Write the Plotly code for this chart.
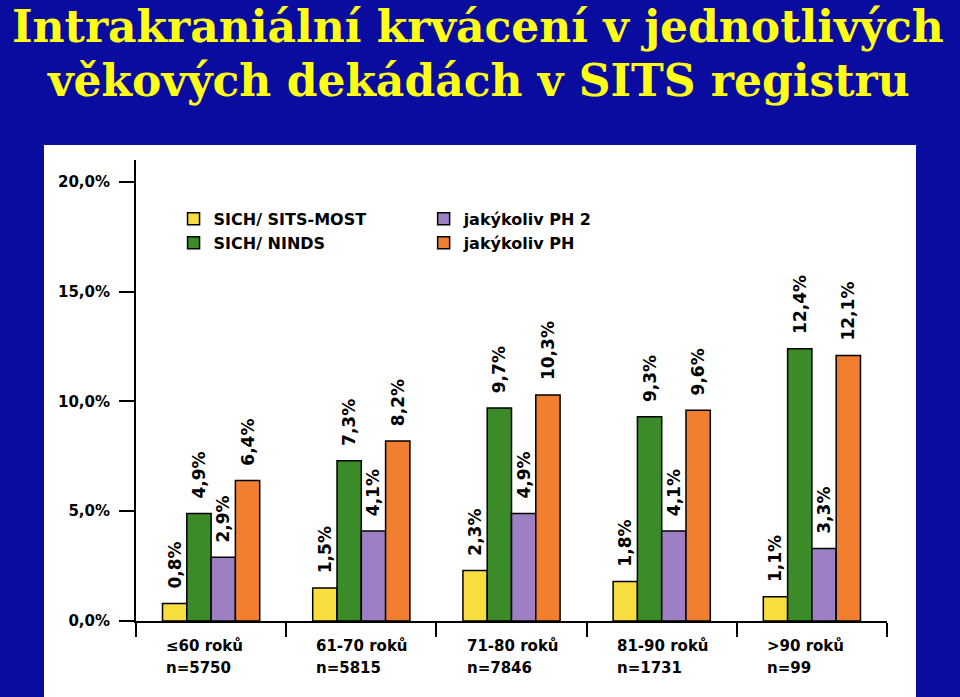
import plotly.graph_objects as go

# ---- data ----
categories = ["≤60 roků", "61-70 roků", "71-80 roků", "81-90 roků", ">90 roků"]
n_labels = ["n=5750", "n=5815", "n=7846", "n=1731", "n=99"]
series_names = ["SICH/ SITS-MOST", "SICH/ NINDS", "jakýkoliv PH 2", "jakýkoliv PH"]
sich_sits_most = [0.8, 1.5, 2.3, 1.8, 1.1]
sich_ninds = [4.9, 7.3, 9.7, 9.3, 12.4]
any_ph2 = [2.9, 4.1, 4.9, 4.1, 3.3]
any_ph = [6.4, 8.2, 10.3, 9.6, 12.1]
y_ticks = [0, 5, 10, 15, 20]
y_tick_labels = ["0,0%", "5,0%", "10,0%", "15,0%", "20,0%"]
title_lines = ["Intrakraniální krvácení v jednotlivých", "věkových dekádách v SITS registru"]

series_values = [sich_sits_most, sich_ninds, any_ph2, any_ph]
colors = ["#F7DD3E", "#3B8B28", "#9D80C4", "#F27F30"]
legends = ["legend", "legend", "legend2", "legend2"]

SANS = "DejaVu Sans"
BLUE = "#0A0CA0"

fig = go.Figure()
for name, vals, col, lg in zip(series_names, series_values, colors, legends):
    fig.add_trace(go.Bar(
        x=categories, y=vals, name=name, legend=lg,
        marker=dict(color=col, line=dict(color="black", width=1.5)),
        texttemplate="\u00a0\u00a0%{y:.1f}%", textposition="outside",
        textangle=-90, constraintext="none", cliponaxis=False,
        textfont=dict(family=SANS, size=17, color="black", weight="bold"),
    ))

# white panel behind the chart
fig.add_shape(type="rect", xref="paper", yref="paper",
              x0=-0.1225, x1=1.0386, y0=-0.17, y1=1.0325,
              fillcolor="white", line=dict(width=0), layer="below")

# title
for i, line in enumerate(title_lines):
    fig.add_annotation(text=f"<b>{line}</b>", xref="paper", yref="paper",
                       x=0.4554, y=[1.347, 1.2299][i], xanchor="center", yanchor="top",
                       showarrow=False, borderpad=0,
                       font=dict(family="DejaVu Serif", size=44, color="#FFFF14"))

# category labels
for c, n in zip(categories, n_labels):
    fig.add_annotation(text=c, x=c, xref="x", y=0, yref="paper", xanchor="left",
                       yanchor="middle", xshift=-47, yshift=-25, showarrow=False,
                       font=dict(family=SANS, size=15, color="black", weight="bold"))
    fig.add_annotation(text=n, x=c, xref="x", y=0, yref="paper", xanchor="left",
                       yanchor="middle", xshift=-47, yshift=-47, showarrow=False,
                       font=dict(family=SANS, size=15, color="black", weight="bold"))

legend_style = dict(orientation="v", bgcolor="rgba(0,0,0,0)", yanchor="top",
                    font=dict(family=SANS, size=16, color="black", weight="bold"),
                    tracegroupgap=0, itemclick=False)

fig.update_layout(
    width=960, height=697,
    margin=dict(l=136, r=73, t=160, b=76),
    paper_bgcolor=BLUE, plot_bgcolor="white",
    separators=", ",
    barmode="group", bargap=0.353, bargroupgap=0,
    showlegend=True,
    legend=dict(x=0.05, y=0.909, **legend_style),
    legend2=dict(x=0.383, y=0.909, **legend_style),
    xaxis=dict(type="category", range=[-0.5, 4.5], showticklabels=False,
               tickson="boundaries", ticks="outside", ticklen=14, tickwidth=2,
               tickcolor="black", showline=True, linecolor="black", linewidth=2,
               showgrid=False, zeroline=False, fixedrange=True),
    yaxis=dict(range=[0, 21.0], tickvals=y_ticks, ticktext=y_tick_labels,
               ticks="outside", ticklen=15, tickwidth=2, tickcolor="black",
               ticklabelstandoff=6,
               tickfont=dict(family=SANS, size=15, color="black", weight="bold"),
               showline=True, linecolor="black", linewidth=2,
               showgrid=False, zeroline=False, fixedrange=True),
)

fig.write_html("out.html")
